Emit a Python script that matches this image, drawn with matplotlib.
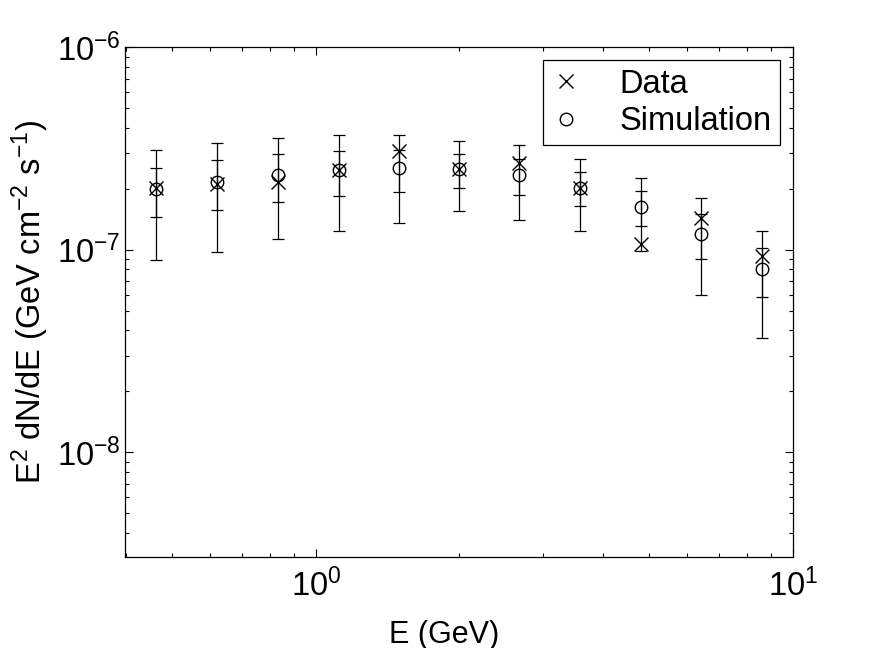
import numpy as np
import matplotlib
matplotlib.use("Agg")
import matplotlib.pyplot as plt
from matplotlib.lines import Line2D

plt.rcParams['font.family'] = ['Liberation Sans', 'DejaVu Sans']
plt.rcParams['mathtext.fontset'] = 'custom'
plt.rcParams['mathtext.rm'] = 'Liberation Sans'
plt.rcParams['mathtext.it'] = 'Liberation Sans'
plt.rcParams['mathtext.default'] = 'regular'

# energy bins (GeV)
energy = [0.462, 0.620, 0.832, 1.117, 1.493, 1.995, 2.665, 3.575, 4.80, 6.41, 8.61]

# E^2 dN/dE, units of 1e-7 GeV cm^-2 s^-1
data = [2.02, 2.11, 2.17, 2.48, 3.08, 2.50, 2.67, 2.03, 1.07, 1.44, 0.927]
sim = [2.00, 2.17, 2.35, 2.47, 2.53, 2.50, 2.34, 2.03, 1.63, 1.20, 0.805]
err_outer = [1.105, 1.197, 1.22, 1.225, 1.18, 0.94, 0.935, 0.785, 0.64, 0.60, 0.44]
err_inner = [0.545, 0.60, 0.62, 0.62, 0.59, 0.47, 0.47, 0.39, 0.32, 0.30, 0.22]

scale = 1e-7
E = np.array(energy)
d = np.array(data) * scale
s = np.array(sim) * scale
eo = np.array(err_outer) * scale
ei = np.array(err_inner) * scale

fig = plt.figure(figsize=(8.75, 6.48), dpi=100)
ax = fig.add_axes([0.143, 0.140, 0.763, 0.787])

ax.errorbar(E, s, yerr=eo, fmt='none', ecolor='k', elinewidth=0.9, capsize=4, capthick=0.9)
ax.errorbar(E, s, yerr=ei, fmt='none', ecolor='k', elinewidth=0.9, capsize=4, capthick=0.9)
ax.plot(E, d, 'x', color='k', markersize=10, markeredgewidth=1.0)
ax.plot(E, s, 'o', color='k', markerfacecolor='none', markersize=9, markeredgewidth=1.0)

ax.set_xscale('log')
ax.set_yscale('log')
ax.set_xlim(0.398, 10)
ax.set_ylim(3.03e-9, 1e-6)

fs = 23.5
ax.tick_params(which='both', direction='in', top=True, right=True, labelsize=fs, width=0.8)
ax.tick_params(which='major', length=6)
ax.tick_params(which='minor', length=3)
ax.tick_params(axis='x', pad=8)
for sp in ax.spines.values():
    sp.set_linewidth(0.9)

ax.set_xlabel('E (GeV)', fontsize=22, labelpad=12, x=0.478)
ax.set_ylabel(r'E$^2$ dN/dE (GeV cm$^{-2}$ s$^{-1}$)', fontsize=fs, labelpad=4)

handles = [Line2D([], [], ls='none', marker='x', color='k', markersize=10, markeredgewidth=1.0),
           Line2D([], [], ls='none', marker='o', color='k', markerfacecolor='none', markersize=9,
                  markeredgewidth=1.0)]
leg = ax.legend(handles, ['Data', 'Simulation'], loc='upper right', fontsize=fs, fancybox=False,
                framealpha=1, edgecolor='k', borderaxespad=0.4, borderpad=0.25, labelspacing=0.2,
                handlelength=0.9, handletextpad=1.19)
leg.get_frame().set_linewidth(0.9)

fig.savefig('out.png', dpi=100)
